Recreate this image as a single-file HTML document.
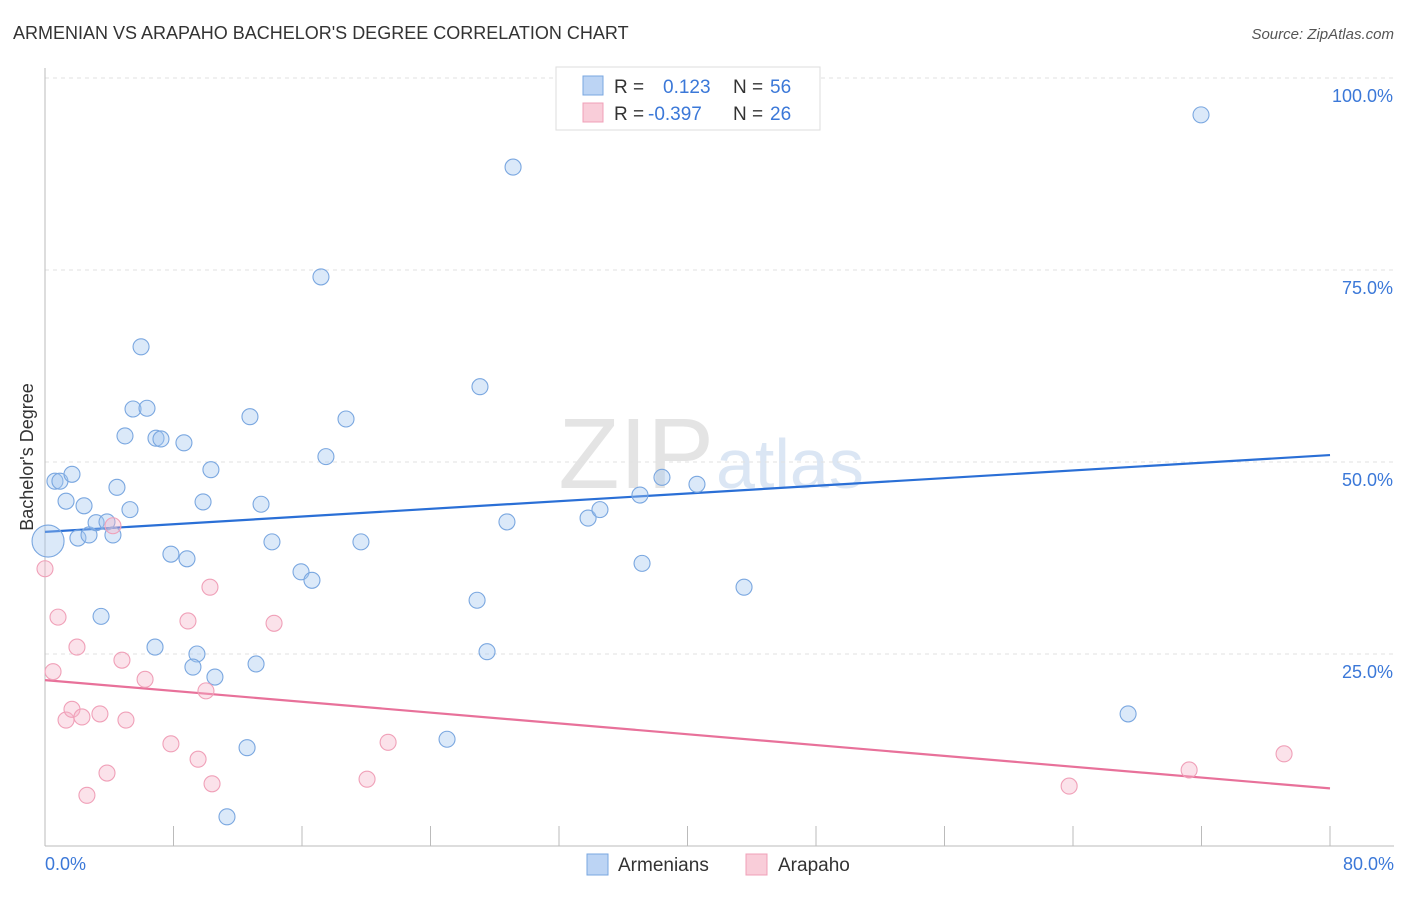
<!DOCTYPE html>
<html><head><meta charset="utf-8"><style>
body{margin:0;background:#fff;font-family:"Liberation Sans",sans-serif;}
svg text{font-family:"Liberation Sans",sans-serif;}
</style></head><body>
<svg id="chart" width="1406" height="892" viewBox="0 0 1406 892">
<text x="13" y="39" font-size="18" fill="#333">ARMENIAN VS ARAPAHO BACHELOR'S DEGREE CORRELATION CHART</text>
<text x="1394" y="39" font-size="15" fill="#555" font-style="italic" text-anchor="end">Source: ZipAtlas.com</text>
<text x="714" y="488" font-size="100" fill="#e4e4e4" text-anchor="end" font-family="Liberation Serif">ZIP</text>
<text x="716" y="488" font-size="70" fill="#dbe6f4">atlas</text>
<g id="grid"></g>
<line x1="45" y1="68" x2="45" y2="846" stroke="#bbb"/>
<line x1="45" y1="846" x2="1394" y2="846" stroke="#bbb"/>
<g id="xticks"></g>
<text x="33" y="457" font-size="18" fill="#333" text-anchor="middle" transform="rotate(-90 33 457)">Bachelor's Degree</text>
<text x="45" y="870" font-size="18" fill="#3b78d8">0.0%</text>
<text x="1394" y="870" font-size="18" fill="#3b78d8" text-anchor="end">80.0%</text>
<g id="lines"></g>
<g id="points"></g>
<g>
<rect x="556" y="67" width="264" height="63" fill="#fff" stroke="#ddd"/>
<rect x="583" y="76" width="20" height="19" fill="#bcd4f4" stroke="#7aa7e0"/>
<rect x="583" y="103" width="20" height="19" fill="#f9cdd9" stroke="#f0a0b8"/>
<text x="614" y="93" font-size="19" fill="#333">R = </text><text x="663" y="93" font-size="19" fill="#3b78d8">0.123</text>
<text x="733" y="93" font-size="19" fill="#333">N = </text><text x="770" y="93" font-size="19" fill="#3b78d8">56</text>
<text x="614" y="120" font-size="19" fill="#333">R = </text><text x="648" y="120" font-size="19" fill="#3b78d8">-0.397</text>
<text x="733" y="120" font-size="19" fill="#333">N = </text><text x="770" y="120" font-size="19" fill="#3b78d8">26</text>
</g>
<g>
<rect x="587" y="854" width="21" height="21" fill="#bcd4f4" stroke="#7aa7e0"/>
<text x="618" y="871" font-size="19" fill="#333">Armenians</text>
<rect x="746" y="854" width="21" height="21" fill="#f9cdd9" stroke="#f0a0b8"/>
<text x="778" y="871" font-size="19" fill="#333">Arapaho</text>
</g>
</svg>
<script>
const yTicks=[25,50,75,100];
const yTickLabels=["25.0%","50.0%","75.0%","100.0%"];
const xTicks=[0,8,16,24,32,40,48,56,64,72,80];
const blueX=[0.19,0.62,0.93,1.68,1.31,2.43,2.05,2.74,3.18,3.86,4.23,4.48,3.49,5.29,4.98,5.48,6.35,5.98,6.91,7.22,8.65,7.84,8.84,9.84,10.33,6.85,9.46,9.21,10.58,12.76,13.45,14.13,13.14,12.58,11.33,17.18,17.49,18.74,15.94,16.62,19.67,27.08,29.14,28.76,26.90,27.52,25.03,33.81,34.55,37.04,38.41,40.59,37.17,43.52,67.43,71.97];
const blueY=[39.7,47.5,47.5,48.4,44.9,44.3,40.1,40.5,42.1,42.2,40.5,46.7,29.9,43.8,53.4,56.9,57.0,65.0,53.1,53.0,52.5,38.0,37.4,44.8,49.0,25.9,25.0,23.3,22.0,55.9,44.5,39.6,23.7,12.8,3.8,74.1,50.7,55.6,35.7,34.6,39.6,59.8,88.4,42.2,32.0,25.3,13.9,42.7,43.8,45.7,48.0,47.1,36.8,33.7,17.2,95.2];
const pinkX=[0,0.81,0.50,1.99,1.31,1.68,2.30,3.42,4.23,4.79,5.04,2.61,3.86,6.23,7.84,8.90,10.27,10.02,9.53,10.40,14.26,21.36,20.05,63.76,71.23,77.14];
const pinkY=[36.1,29.8,22.7,25.9,16.4,17.8,16.8,17.2,41.7,24.2,16.4,6.6,9.5,21.7,13.3,29.3,33.7,20.2,11.3,8.1,29.0,13.5,8.7,7.8,9.9,12.0];
const blueTrend=[40.9,50.9];
const pinkTrend=[21.6,7.5];
const NS="http://www.w3.org/2000/svg";
function sx(v){return 45+v*(1285/80);}
function sy(v){return 846-v*7.68;}
function mk(t,a,p){const e=document.createElementNS(NS,t);for(const k in a)e.setAttribute(k,a[k]);document.getElementById(p).appendChild(e);return e;}
yTicks.forEach((t,i)=>{
 const l=mk('line',{x1:45,x2:1394,y1:sy(t),y2:sy(t),stroke:'#e2e2e2','stroke-dasharray':'4,4'},'grid');
 
 
 const tx=mk('text',{x:1393,y:sy(t)+24,'font-size':18,fill:'#3b78d8','text-anchor':'end'},'grid');
 tx.textContent=yTickLabels[i];
 
 
});
xTicks.forEach(t=>{
 const l=mk('line',{x1:sx(t),x2:sx(t),y1:826,y2:846,stroke:'#bbb'},'xticks');
 
 
});
const bl=mk('line',{x1:sx(0),y1:sy(blueTrend[0]),x2:sx(80),y2:sy(blueTrend[1]),stroke:'#2a6fd6','stroke-width':2.2},'lines');


const pl=mk('line',{x1:sx(0),y1:sy(pinkTrend[0]),x2:sx(80),y2:sy(pinkTrend[1]),stroke:'#e8719a','stroke-width':2.2},'lines');


blueX.forEach((x,i)=>{
 const c=mk('circle',{cx:sx(x),cy:sy(blueY[i]),r:i===0?16:8,fill:'rgba(160,196,240,0.38)',stroke:'#7aa7e0','stroke-width':1.1},'points');
 
 
});
pinkX.forEach((x,i)=>{
 const c=mk('circle',{cx:sx(x),cy:sy(pinkY[i]),r:8,fill:'rgba(245,180,200,0.38)',stroke:'#f0a0b8','stroke-width':1.1},'points');
 
 
});
</script>
</body></html>
